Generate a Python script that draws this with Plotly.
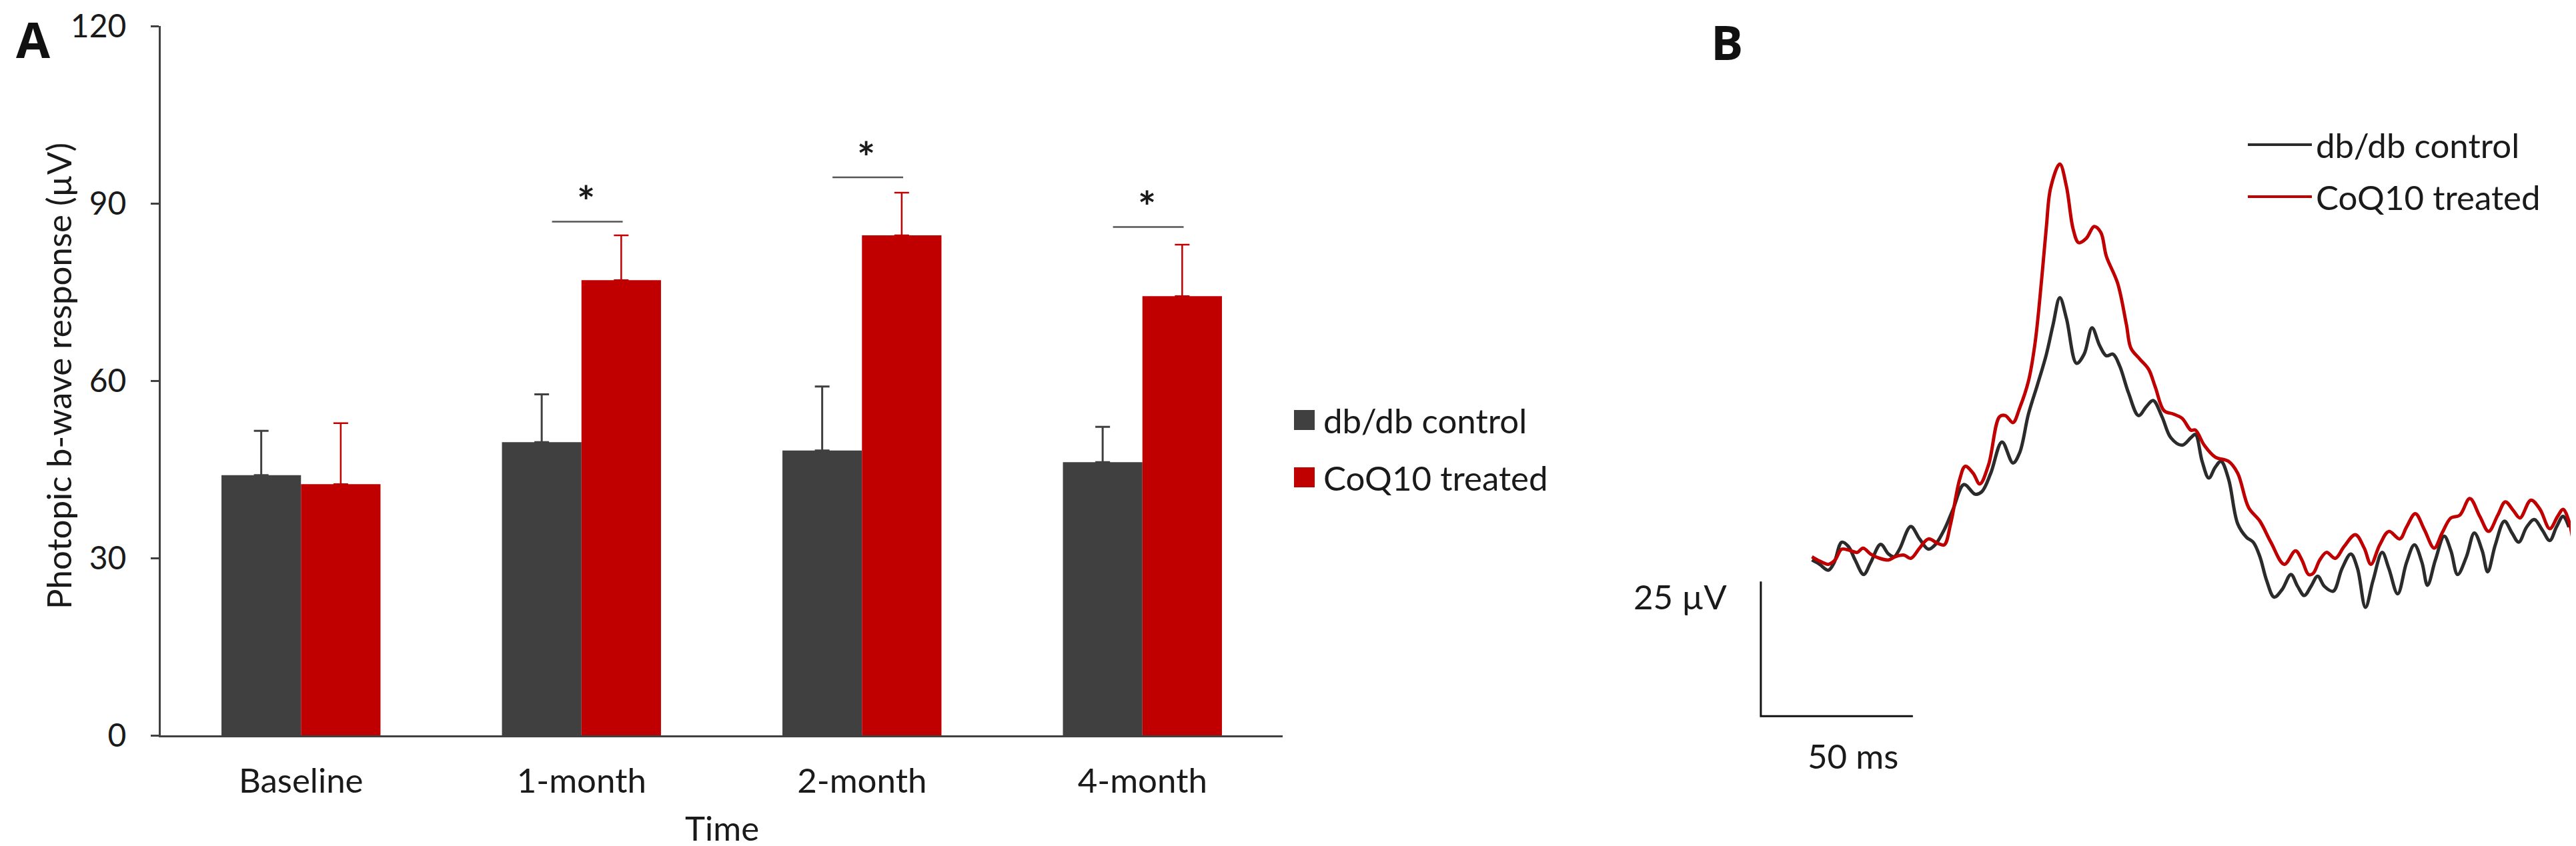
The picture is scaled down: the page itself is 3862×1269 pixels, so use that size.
import plotly.graph_objects as go

W, H = 3862, 1269

# ---- Panel A data: photopic b-wave amplitude (uV) ----
categories = ["Baseline", "1-month", "2-month", "4-month"]
control_mean = [44.0, 49.6, 48.2, 46.2]
control_err = [7.5, 8.1, 10.8, 6.0]
treated_mean = [42.5, 77.0, 84.6, 74.3]
treated_err = [10.3, 7.6, 7.2, 8.7]
y_ticks = [0, 30, 60, 90, 120]

# significance brackets (category, height of bar line)
sig_cats = [1, 2, 3]
sig_line_y = [86.9, 94.4, 86.0]

# ---- Panel B data: representative ERG traces (ms, uV) ----
control_t = [0, 2.5, 5.4, 7.3, 9.8, 12.0, 14.2, 17.0, 19.3, 22.6, 25.2, 27.0, 28.8,
             32.5, 35.4, 38.3, 40.5, 43.5, 46.4, 50.0, 53.7, 55.9, 58.8, 62.5, 66.1,
             68.3, 71.2, 74.2, 77.1, 79.3, 81.5, 83.7, 87.0, 89.5, 92.1, 94.6, 96.8,
             99.0, 101.2, 104.1, 107.4, 110.0, 112.2, 115.1, 118.0, 121.7, 124.6,
             126.1, 128.3, 130.5, 132.6, 134.5, 137.0, 140.0, 142.9, 145.1, 147.3,
             149.5, 152.0, 154.6, 157.5, 159.7, 161.9, 164.1, 166.3, 168.5, 171.4,
             174.3, 177.2, 179.4, 182.0, 184.5, 187.5, 189.7, 192.6, 195.5, 198.1,
             200.6, 202.4, 205.0, 207.9, 210.1, 212.3, 215.2, 217.8, 220.4, 222.2,
             224.7, 227.7, 230.2, 232.4, 235.0, 237.5, 240.1, 242.6, 244.8, 247.0, 248.9]
control_uv = [-0.3, -1.1, -2.2, -0.8, 3.0, 2.2, -0.3, -3.0, -0.8, 2.6, 0.8, 0.3, 1.7,
              5.9, 3.6, 1.7, 2.5, 5.3, 9.1, 13.7, 11.9, 12.4, 15.8, 21.6, 17.7,
              19.6, 26.8, 32.3, 37.9, 43.4, 48.4, 44.5, 36.2, 37.9, 42.8, 39.5, 37.6,
              37.9, 35.7, 30.7, 26.5, 28.2, 29.3, 26.3, 22.4, 21.0, 22.4,
              23.0, 18.0, 14.9, 16.9, 18.0, 14.7, 6.4, 3.9, 3.0, 0.3,
              -4.1, -7.2, -5.8, -3.0, -5.2, -6.9, -5.2, -3.3, -5.2, -6.1,
              -1.9, 0.8, -1.9, -9.1, -4.1, 1.1, -1.9, -6.6, -0.8, 2.5,
              -0.8, -5.0, -0.3, 4.1, 1.4, -3.0, 0.3, 4.7, 1.4, -2.5,
              2.5, 6.9, 4.7, 3.0, 5.8, 7.2, 5.3, 3.3, 5.8, 7.8, 5.8]

treated_t = [0, 2.5, 5.4, 7.6, 9.8, 12.8, 14.9, 16.8, 19.3, 22.3, 25.2, 27.4, 30.3,
             32.5, 35.4, 38.3, 41.3, 43.5, 45.6, 48.6, 50.4, 53.0, 55.2, 58.1, 61.7,
             63.6, 66.1, 68.3, 71.2, 73.4, 75.6, 77.1, 78.5, 81.5, 83.7, 85.9, 87.7,
             90.2, 92.8, 95.0, 96.8, 100.5, 103.4, 104.9, 107.8, 110.7, 112.9, 115.8,
             118.8, 121.7, 124.6, 126.1, 129.0, 132.6, 137.0, 140.0, 143.6, 147.3,
             150.9, 155.3, 159.0, 161.1, 163.3, 164.8, 167.0, 169.2, 172.1, 175.0,
             178.7, 181.6, 183.8, 186.7, 189.7, 193.3, 195.5, 198.4, 201.4, 204.6,
             207.2, 210.1, 213.0, 216.3, 219.6, 222.5, 225.5, 228.0, 230.6, 232.8,
             236.4, 239.4, 242.6, 245.2, 247.0, 248.9, 250.3]
treated_uv = [0.3, -0.5, -1.1, -0.3, 1.7, 1.4, 1.1, 1.9, 0.8, 0.0, -0.3, 0.3, 0.6,
              0.0, 1.9, 3.6, 2.8, 2.5, 6.4, 14.7, 17.1, 15.8, 13.8, 17.4, 26.3,
              26.5, 25.2, 27.9, 32.9, 40.1, 52.2, 61.6, 68.8, 73.2, 69.0, 61.1, 58.6,
              59.4, 61.6, 60.5, 56.1, 51.1, 43.4, 39.0, 37.0, 35.1, 31.8, 27.4,
              26.8, 26.0, 23.8, 23.8, 21.0, 18.8, 18.0, 15.8, 9.4, 6.9,
              3.0, -1.1, 1.4, -0.3, -3.0, -2.8, -0.3, 1.1, 0.0, 2.2,
              4.4, 1.9, -1.1, 2.5, 5.0, 3.6, 5.8, 8.3, 5.3, 1.9,
              4.7, 7.5, 8.0, 11.1, 7.8, 5.0, 8.0, 10.5, 8.9, 7.5,
              10.8, 9.1, 5.5, 7.8, 9.1, 6.9, 3.0]

# calibration bar: 25 uV x 50 ms
scale_t0, scale_uv0 = -16.8, -4.3
scale_uv_len, scale_t_len = 25, 50

DARK = "#404040"
RED = "#c00000"
TXT = "#1a1a1a"
FONT = "Lato, Carlito, Calibri, sans-serif"
FS = 51


def px(x):
    return x / W


def py(y):
    return 1 - y / H


fig = go.Figure()

fig.add_trace(go.Bar(
    x=categories, y=control_mean, name="db/db control", marker_color=DARK,
    marker_line_width=0,
    error_y=dict(type="data", symmetric=False, array=control_err,
                 arrayminus=[0] * 4, color=DARK, thickness=3, width=11),
    xaxis="x", yaxis="y", showlegend=False))
fig.add_trace(go.Bar(
    x=categories, y=treated_mean, name="CoQ10 treated", marker_color=RED,
    marker_line_width=0,
    error_y=dict(type="data", symmetric=False, array=treated_err,
                 arrayminus=[0] * 4, color=RED, thickness=2.5, width=11),
    xaxis="x", yaxis="y", showlegend=False))

# ERG traces
fig.add_trace(go.Scatter(x=control_t, y=control_uv, mode="lines",
                         line=dict(color="#2b2b2b", width=5, shape="spline", smoothing=1),
                         xaxis="x2", yaxis="y2", showlegend=False))
fig.add_trace(go.Scatter(x=treated_t, y=treated_uv, mode="lines",
                         line=dict(color=RED, width=5, shape="spline", smoothing=1),
                         xaxis="x2", yaxis="y2", showlegend=False))
fig.add_trace(go.Scatter(
    x=[scale_t0, scale_t0, scale_t0 + scale_t_len],
    y=[scale_uv0, scale_uv0 - scale_uv_len, scale_uv0 - scale_uv_len],
    mode="lines", line=dict(color="#111111", width=3),
    xaxis="x2", yaxis="y2", showlegend=False))

shapes = []
annotations = []

# significance bars and stars
for c, ly in zip(sig_cats, sig_line_y):
    shapes.append(dict(type="line", xref="x", yref="y", x0=c - 0.105, x1=c + 0.147,
                       y0=ly, y1=ly, line=dict(color="#555555", width=2.5)))
    annotations.append(dict(xref="x", yref="y", x=c + 0.015, y=ly, text="<b>*</b>",
                            showarrow=False, yanchor="bottom", yshift=-10,
                            font=dict(family=FONT, size=64, color=TXT)))

# panel A legend
for i, (lab, col) in enumerate([("db/db control", DARK), ("CoQ10 treated", RED)]):
    cy = 622 + i * 86
    shapes.append(dict(type="rect", xref="paper", yref="paper",
                       x0=px(1932), x1=px(1963), y0=py(cy + 15), y1=py(cy - 15),
                       fillcolor=col, line=dict(width=0)))
    annotations.append(dict(xref="paper", yref="paper", x=px(1974), y=py(cy),
                            text=lab, showarrow=False, xanchor="left", yanchor="middle",
                            font=dict(family=FONT, size=FS, color=TXT)))

# panel B legend
for i, (lab, col) in enumerate([("db/db control", "#2b2b2b"), ("CoQ10 treated", RED)]):
    cy = 209 + i * 78
    shapes.append(dict(type="line", xref="paper", yref="paper",
                       x0=px(3362), x1=px(3458), y0=py(cy), y1=py(cy),
                       line=dict(color=col, width=4)))
    annotations.append(dict(xref="paper", yref="paper", x=px(3462), y=py(cy),
                            text=lab, showarrow=False, xanchor="left", yanchor="middle",
                            font=dict(family=FONT, size=FS, color=TXT)))

# axis titles / calibration labels / panel letters
annotations += [
    dict(xref="paper", yref="paper", x=px(1074), y=py(1266), text="Time",
         showarrow=False, xanchor="center", yanchor="bottom",
         font=dict(family=FONT, size=FS, color=TXT)),
    dict(xref="paper", yref="paper", x=px(79), y=py(556),
         text="Photopic b-wave response (µV)", textangle=-90, showarrow=False,
         xanchor="center", yanchor="middle",
         font=dict(family=FONT, size=FS, color=TXT)),
    dict(xref="x2", yref="y2", x=-27.5, y=-7.0, text="25 µV", showarrow=False,
         xanchor="right", yanchor="middle", font=dict(family=FONT, size=FS, color=TXT)),
    dict(xref="x2", yref="y2", x=13.5, y=-36.6, text="50 ms", showarrow=False,
         xanchor="center", yanchor="middle", font=dict(family=FONT, size=FS, color=TXT)),
    dict(xref="paper", yref="paper", x=px(42), y=py(51), text="<b>A</b>",
         showarrow=False, xanchor="center", yanchor="middle",
         font=dict(family="Open Sans, Arial, sans-serif", size=74, color="#111111", weight=800)),
    dict(xref="paper", yref="paper", x=px(2581), y=py(54), text="<b>B</b>",
         showarrow=False, xanchor="center", yanchor="middle",
         font=dict(family="Open Sans, Arial, sans-serif", size=72, color="#111111", weight=800)),
]

fig.update_layout(
    width=W, height=H,
    margin=dict(l=0, r=0, t=0, b=0),
    paper_bgcolor="white", plot_bgcolor="white",
    barmode="group", bargap=0.433, bargroupgap=0,
    font=dict(family=FONT, size=FS, color=TXT),
    showlegend=False,
    xaxis=dict(domain=[px(233), px(1915)], anchor="y", type="category",
               range=[-0.5, 3.5], showline=True, linecolor=DARK, linewidth=3,
               ticks="", showgrid=False, zeroline=False, automargin=False,
               tickfont=dict(family=FONT, size=FS, color=TXT), ticklabelstandoff=22),
    yaxis=dict(domain=[py(1095), py(31)], anchor="x", range=[0, 120],
               tickvals=y_ticks, ticks="outside", ticklen=12, tickwidth=3,
               tickcolor=DARK, showline=True, linecolor=DARK, linewidth=3,
               showgrid=False, zeroline=False, automargin=False,
               ticklabeloverflow="allow",
               tickfont=dict(family=FONT, size=48, color=TXT), ticklabelstandoff=27),
    xaxis2=dict(domain=[px(2434.9), px(3857.5)], anchor="y2", range=[-60, 252],
                visible=False),
    yaxis2=dict(domain=[py(1193.1), py(142.7)], anchor="x2", range=[-45, 85],
                visible=False),
    shapes=shapes,
    annotations=annotations,
)

fig.write_html("out.html")
